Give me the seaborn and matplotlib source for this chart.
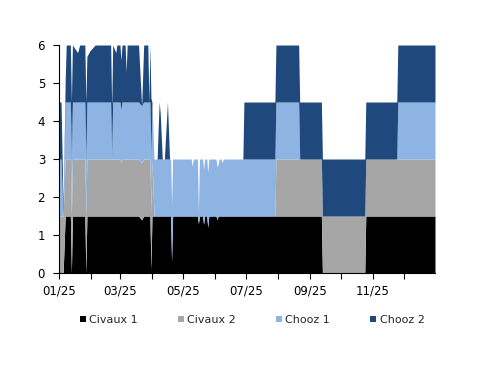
import matplotlib
matplotlib.use("Agg")
import matplotlib.pyplot as plt
import matplotlib.dates as mdates
from matplotlib.patches import Patch
import seaborn as sns
import pandas as pd

# ---- data (breakpoints: day offset from 2025-01-01, value in GW) ----
day = [0, 2, 4, 6, 7, 11, 12, 13, 18, 20, 25, 26, 27, 30, 35, 50, 51, 52, 55, 56,
       59, 60, 61, 64, 65, 66, 77, 80, 82, 86, 87, 88, 89, 90, 92, 95, 96, 97, 98,
       100, 102, 105, 107, 108, 109, 110, 128, 129, 130, 134, 135, 136, 139, 140,
       141, 143, 144, 145, 152, 153, 154, 155, 157, 158, 159, 178, 179, 209, 210,
       232, 233, 254, 255, 296, 297, 327, 328, 364]

civaux1 = [0, 0, 0, 1.5, 1.5, 1.5, 0, 1.5, 1.5, 1.5, 1.5, 0, 1.5, 1.5, 1.5, 1.5, 1.5, 1.5, 1.5, 1.5,
           1.5, 1.5, 1.5, 1.5, 1.5, 1.5, 1.5, 1.4, 1.5, 1.5, 1.5, 1.5, 0.1, 1.5, 1.5, 1.5, 1.5, 1.5, 1.5,
           1.5, 1.5, 1.5, 1.5, 1.5, 0.3, 1.5, 1.5, 1.5, 1.5, 1.5, 1.3, 1.5, 1.5, 1.28,
           1.5, 1.5, 1.2, 1.5, 1.5, 1.4, 1.5, 1.5, 1.5, 1.5, 1.5, 1.5, 1.5, 1.5, 1.5,
           1.5, 1.5, 1.5, 0, 0, 1.5, 1.5, 1.5, 1.5]

civaux2 = [1.5, 1.5, 1.5, 1.5, 1.5, 1.5, 1.5, 1.5, 1.5, 1.5, 1.5, 1.5, 1.5, 1.5, 1.5, 1.5, 1.5, 1.5, 1.5, 1.5,
           1.5, 1.4, 1.5, 1.5, 1.5, 1.5, 1.5, 1.5, 1.5, 1.5, 1.5, 1.5, 1.5, 1.5, 0, 0, 0, 0, 0,
           0, 0, 0, 0, 0, 0, 0, 0, 0, 0, 0, 0, 0, 0, 0,
           0, 0, 0, 0, 0, 0, 0, 0, 0, 0, 0, 0, 0, 0, 1.5,
           1.5, 1.5, 1.5, 1.5, 1.5, 1.5, 1.5, 1.5, 1.5]

chooz1 = [1.5, 1.5, 0, 1.5, 1.5, 1.5, 1.5, 1.5, 1.5, 1.5, 1.5, 1.5, 1.5, 1.5, 1.5, 1.5, 0.1, 1.5, 1.5, 1.5,
          1.5, 1.4, 1.5, 1.5, 1.5, 1.5, 1.5, 1.5, 1.5, 1.5, 1.5, 1.5, 1.5, 1.5, 1.5, 1.5, 1.5, 1.5, 1.5,
          1.5, 1.5, 1.5, 1.5, 1.5, 1.5, 1.5, 1.5, 1.3, 1.5, 1.5, 0.3, 1.5, 1.5, 1.45,
          1.5, 1.5, 1.45, 1.5, 1.5, 1.4, 1.35, 1.5, 1.5, 1.4, 1.5, 1.5, 1.5, 1.5, 1.5,
          1.5, 0, 0, 0, 0, 0, 0, 1.5, 1.5]

chooz2 = [1.5, 1.5, 0.2, 0.6, 1.5, 1.5, 1.5, 1.5, 1.3, 1.5, 1.5, 1.5, 1.2, 1.35, 1.5, 1.5, 1.3, 1.5, 1.3, 1.5,
          1.5, 1.3, 1.5, 1.5, 0.8, 1.5, 1.5, 0, 1.5, 1.5, 0, 1.5, 1.5, 0, 0, 0, 0.8, 1.5, 1.2,
          0, 0, 1.5, 0, 0, 0, 0, 0, 0, 0, 0, 0, 0, 0, 0,
          0, 0, 0, 0, 0, 0, 0, 0, 0, 0, 0, 0, 1.5, 1.5, 1.5,
          1.5, 1.5, 1.5, 1.5, 1.5, 1.5, 1.5, 1.5, 1.5]

labels = ["Civaux 1", "Civaux 2", "Chooz 1", "Chooz 2"]
colors = ["#000000", "#A6A6A6", "#8DB4E2", "#1F497D"]
start = "2025-01-01"
y_ticks = [0, 1, 2, 3, 4, 5, 6]

# ---- plot ----
sns.set_theme(style="white")
plt.rcParams["font.family"] = ["DejaVu Sans"]

dates = pd.Timestamp(start) + pd.to_timedelta(day, unit="D")

fig = plt.figure(figsize=(5.0, 3.86), dpi=100)
ax = fig.add_axes([0.118, 0.2927, 0.752, 0.5907])

ax.stackplot(dates, civaux1, civaux2, chooz1, chooz2, colors=colors,
             labels=labels, linewidth=0, antialiased=True)

ax.set_xlim(dates[0], dates[-1])
ax.set_ylim(0, 6)
ax.set_yticks(y_ticks)

ax.xaxis.set_major_locator(mdates.MonthLocator(bymonth=[1, 3, 5, 7, 9, 11]))
ax.xaxis.set_minor_locator(mdates.MonthLocator())
ax.xaxis.set_major_formatter(mdates.DateFormatter("%m/%y"))

for side in ["top", "right"]:
    ax.spines[side].set_visible(False)
for side in ["left", "bottom"]:
    ax.spines[side].set_color("#000000")
    ax.spines[side].set_linewidth(0.8)

ax.tick_params(axis="both", which="both", direction="out", color="#000000",
               width=0.8, labelsize=8.5, labelcolor="#000000")
ax.tick_params(axis="x", which="major", length=4, pad=4)
ax.tick_params(axis="x", which="minor", length=4)
ax.tick_params(axis="y", which="major", length=4, pad=6, left=True)
ax.tick_params(axis="x", bottom=True)
ax.tick_params(axis="x", which="minor", bottom=True)
ax.grid(False)

handles = [Patch(facecolor=c, edgecolor="none") for c in colors]
fig.legend(handles, labels, loc="center", bbox_to_anchor=(0.504, 0.171), ncol=4,
           frameon=False, fontsize=8, handlelength=0.55, handleheight=0.55,
           handletextpad=0.3, columnspacing=3.6, borderaxespad=0)

fig.savefig("out.png", dpi=100, facecolor="white")
